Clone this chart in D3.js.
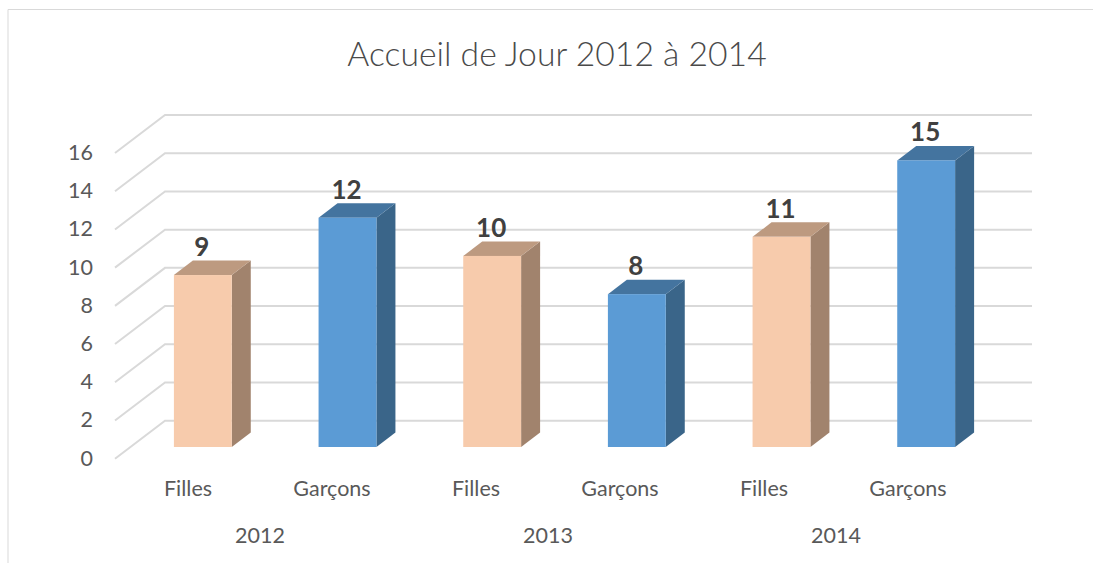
<!DOCTYPE html>
<html>
<head>
<meta charset="utf-8">
<script src="https://cdn.jsdelivr.net/npm/d3@7"></script>
<style>
  html, body { margin: 0; padding: 0; background: #fff; overflow: hidden; }
  text { font-family: Lato, "Open Sans", sans-serif; }
</style>
</head>
<body>
<div id="chart"></div>
<script>
const title = "Accueil de Jour 2012 à 2014";
const categories = ["Filles", "Garçons", "Filles", "Garçons", "Filles", "Garçons"];
const years = ["2012", "2013", "2014"];
const values = [9, 12, 10, 8, 11, 15];
const ticks = [0, 2, 4, 6, 8, 10, 12, 14, 16];

const peach = { front: "#f7cbac", top: "#bd9a80", side: "#a1836d" };
const blue = { front: "#5b9bd5", top: "#44749f", side: "#3a6589" };

let svg = d3.select("#chart").append("svg")
  .attr("width", 1093)
  .attr("height", 563);

// chart frame, only top and left show in the picture
svg.append("path")
  .attr("d", "M8,563V9.5H1093")
  .attr("fill", "none")
  .attr("stroke", "#d9d9d9")
  .attr("stroke-width", 1);

svg.append("text")
  .attr("x", 557)
  .attr("y", 66)
  .attr("text-anchor", "middle")
  .attr("font-size", 33.7)
  .attr("font-weight", 300)
  .attr("fill", "#4a4a4a")
  .text(title);

// gridlines use the floor front edge, bars sit halfway into the depth
let gridY = d3.scaleLinear().domain([0, 16]).range([458.7, 153]);
let barY = d3.scaleLinear().domain([0, 16]).range([447, 141.3]);
let x = d3.scaleBand().domain(d3.range(values.length)).range([130.5, 998.5]).paddingInner(0.6).paddingOuter(0.3);
// axis labels sit on the floor's front edge, a bit tighter than the bars
let labelX = d3.scalePoint().domain(d3.range(values.length)).range([188, 908]);

const depthX = 50, depthY = 38;
const barDepthX = 19, barDepthY = 14.5;

let grid = svg.append("g");
ticks.forEach(t => {
  let y0 = gridY(t);
  grid.append("path")
    .attr("d", `M115,${y0}L${115 + depthX},${y0 - depthY}H1032`)
    .attr("fill", "none")
    .attr("stroke", "#d9d9d9")
    .attr("stroke-width", 2);
  svg.append("text")
    .attr("x", 93)
    .attr("y", y0 + 7)
    .attr("text-anchor", "end")
    .attr("font-size", 21.5)
    .attr("fill", "#595959")
    .text(t);
});

values.forEach((v, i) => {
  let c = i % 2 == 0 ? peach : blue;
  let bx = x(i), w = x.bandwidth();
  let top = barY(v), base = barY(0);

  svg.append("path")
    .attr("d", `M${bx + w},${top}l${barDepthX},${-barDepthY}V${base - barDepthY}L${bx + w},${base}Z`)
    .attr("fill", c.side);
  svg.append("path")
    .attr("d", `M${bx},${top}l${barDepthX},${-barDepthY}h${w}l${-barDepthX},${barDepthY}Z`)
    .attr("fill", c.top);
  svg.append("rect")
    .attr("x", bx)
    .attr("y", top)
    .attr("width", w)
    .attr("height", base - top)
    .attr("fill", c.front);

  svg.append("text")
    .attr("x", bx + w / 2 - 1)
    .attr("y", top - 19)
    .attr("text-anchor", "middle")
    .attr("font-size", 26)
    .attr("font-weight", "bold")
    .attr("fill", "#404040")
    .text(v);

  svg.append("text")
    .attr("x", labelX(i))
    .attr("y", 496)
    .attr("text-anchor", "middle")
    .attr("font-size", 21.5)
    .attr("fill", "#595959")
    .text(categories[i]);
});

years.forEach((yr, i) => {
  svg.append("text")
    .attr("x", (labelX(i * 2) + labelX(i * 2 + 1)) / 2)
    .attr("y", 543)
    .attr("text-anchor", "middle")
    .attr("font-size", 21.5)
    .attr("fill", "#595959")
    .text(yr);
});
</script>
</body>
</html>
